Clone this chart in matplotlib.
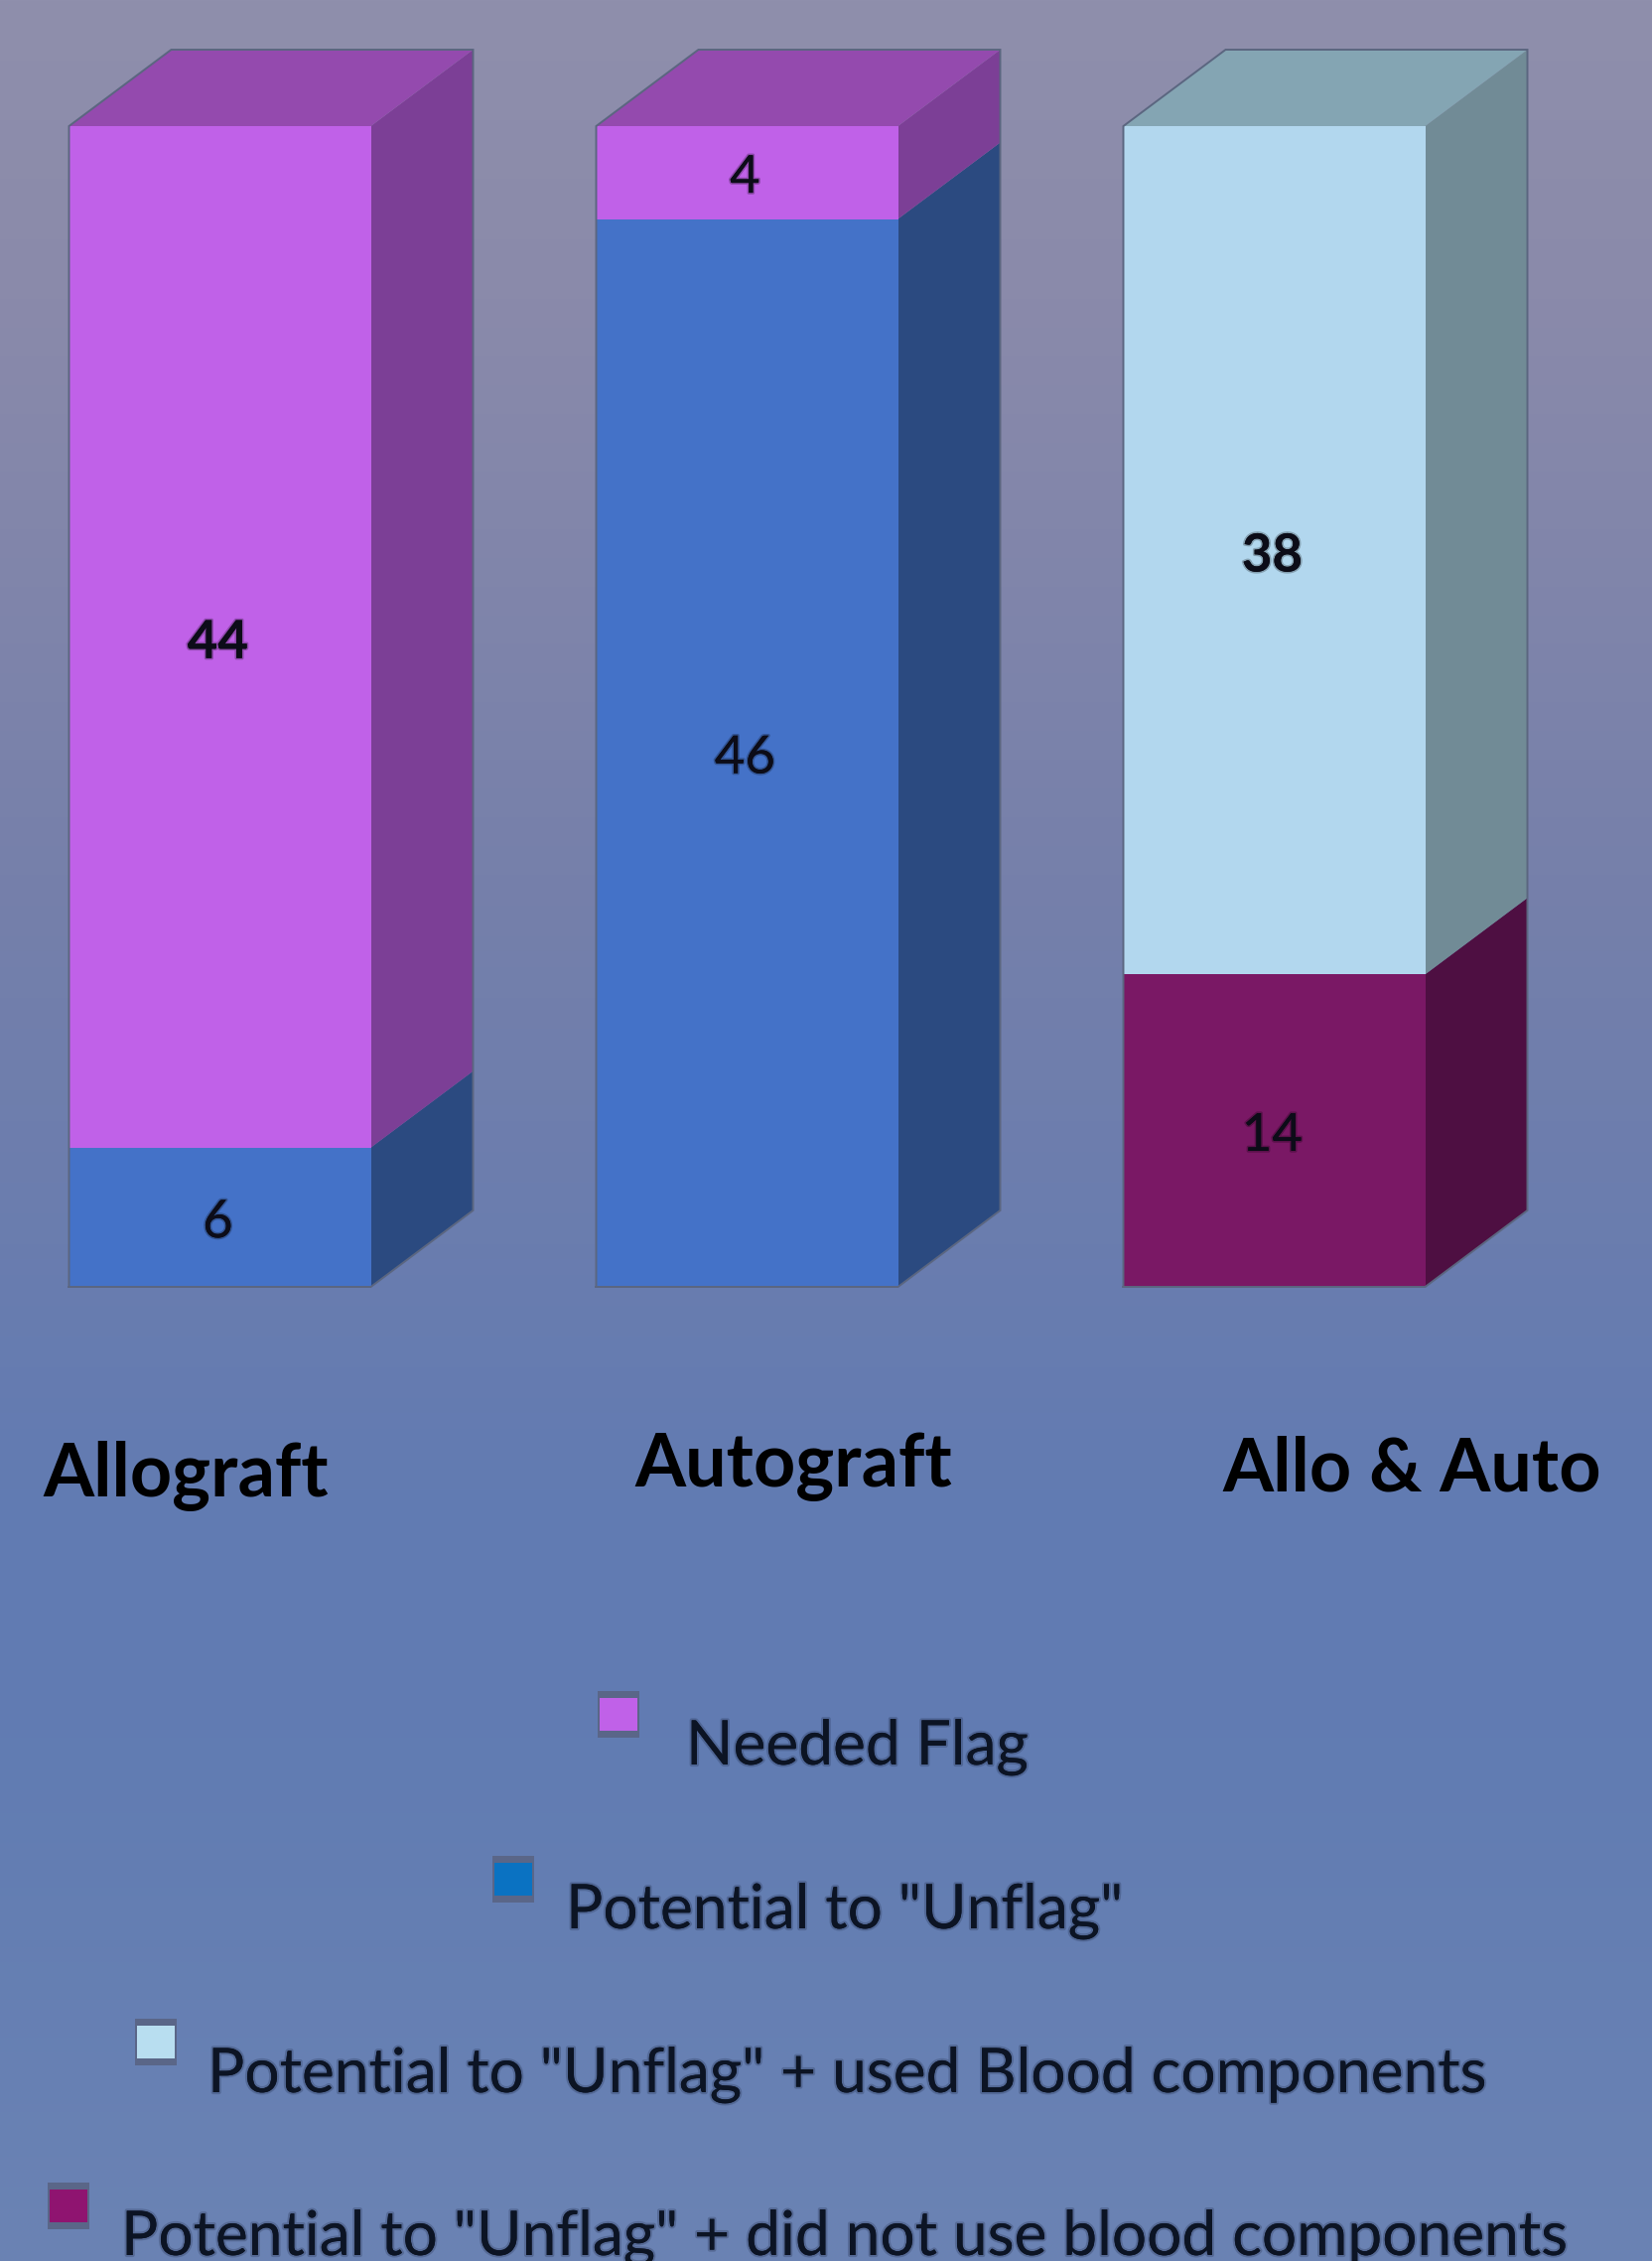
import numpy as np
import matplotlib
matplotlib.use('Agg')
import matplotlib.pyplot as plt
import matplotlib.patheffects as pe
from matplotlib.patches import Rectangle

categories = ['Allograft', 'Autograft', 'Allo & Auto']
# stacked bottom to top, each bar is drawn as share of its own total
unflag = [6, 46, 0]
no_blood = [0, 0, 14]
used_blood = [0, 0, 38]
needed_flag = [44, 4, 0]

series_names = ['Needed Flag', 'Potential to "Unflag"',
                'Potential to "Unflag" + used Blood components',
                'Potential to "Unflag" + did not use blood components']

W, H = 1664, 2277
plt.rcParams['font.family'] = ['Lato', 'DejaVu Sans']

fig = plt.figure(figsize=(W / 100, H / 100), dpi=100)
ax = fig.add_axes([0, 0, 1, 1])

# x=0 is the middle of the first bar, y is percent of bar height
x_unit = 531.0
y_unit = 11.69
xlim = (-221.5 / x_unit, (W - 221.5) / x_unit)
ylim = (-(H - 1296) / y_unit, 100 + 127 / y_unit)
ax.axis('off')

# background gradient
stops_y = [0, 300, 880, 1500, 1750, 2277]
stops_c = np.array([[143, 143, 172], [138, 138, 170], [118, 128, 170],
                    [98, 123, 178], [97, 124, 178], [107, 131, 180]]) / 255
rows = np.arange(H)
grad = np.stack([np.interp(rows, stops_y, stops_c[:, i]) for i in range(3)], axis=1)
ax.imshow(grad[:, None, :], extent=[*xlim, *ylim], aspect='auto',
          origin='upper', zorder=0)
ax.set_xlim(*xlim)
ax.set_ylim(*ylim)

bar_w = 304 / x_unit
dx = 103 / x_unit
dy = 77 / y_unit
edge = '#5b6680'

# front, side, top colours
styles = {
    'unflag': ('#4472c8', '#2b4a80', '#35599c'),
    'no_blood': ('#7a1865', '#4e0f42', '#5f1350'),
    'used_blood': ('#b2d7ee', '#718b96', '#84a5b3'),
    'needed_flag': ('#c061e8', '#7c3f96', '#944aae'),
}
stack = [('unflag', unflag), ('no_blood', no_blood),
         ('used_blood', used_blood), ('needed_flag', needed_flag)]
bold_labels = {44, 38}

totals = np.sum([vals for _, vals in stack], axis=0)
x = np.arange(len(categories))

for i in x:
    bottom = 0.0
    x0, x1 = i - bar_w / 2, i + bar_w / 2
    top_name = None
    for name, vals in stack:
        if vals[i] == 0:
            continue
        h = vals[i] / totals[i] * 100
        front, side, top = styles[name]
        ax.bar(i, h, bar_w, bottom=bottom, color=front, edgecolor='none', zorder=3)
        ax.fill([x1, x1 + dx, x1 + dx, x1],
                [bottom, bottom + dy, bottom + h + dy, bottom + h],
                color=side, lw=0, zorder=2)
        weight = 'bold' if vals[i] in bold_labels else 'normal'
        # labels sit a little under the segment middle
        ax.text(i - 0.004, bottom + h / 2 - 0.5, str(vals[i]), ha='center', va='center',
                fontsize=38, fontweight=weight, color='#0c0c18', zorder=5,
                path_effects=[pe.withStroke(linewidth=2.5, foreground='#00000040')])
        bottom += h
        top_name = name
    # top face of the box and thin outline
    ax.fill([x0, x0 + dx, x1 + dx, x1], [100, 100 + dy, 100 + dy, 100],
            color=styles[top_name][2], lw=0, zorder=2)
    ax.plot([x0, x0, x0 + dx, x1 + dx, x1 + dx, x1, x0],
            [0, 100, 100 + dy, 100 + dy, dy, 0, 0],
            color=edge, lw=1.4, zorder=4, solid_joinstyle='miter')


def fx(px):
    return px / W


def fy(py):
    return 1 - py / H


# category labels sit a bit unevenly in the original
label_pos = [(43, 1507), (639, 1497), (1231, 1502)]
for name, (px, py) in zip(categories, label_pos):
    fig.text(fx(px), fy(py), name, fontsize=53, fontweight='bold', color='black',
             ha='left', va='baseline')

# hand placed legend
swatches = [(602, 1703), (496, 1869), (136, 2033), (48, 2198)]
text_pos = [(691, 1777), (570, 1942), (209, 2107), (122, 2271)]
legend_cols = ['#c061e8', '#0a72c2', '#b8def0', '#8f1470']
for name, col, (sx, sy), (tx, ty) in zip(series_names, legend_cols, swatches, text_pos):
    fig.add_artist(Rectangle((fx(sx), fy(sy + 47)), 42 / W, 47 / H, transform=fig.transFigure,
                             facecolor='#5a6688', edgecolor='none', zorder=3))
    fig.add_artist(Rectangle((fx(sx + 2), fy(sy + 40)), 38 / W, 33 / H, transform=fig.transFigure,
                             facecolor=col, edgecolor='none', zorder=4))
    fig.text(fx(tx), fy(ty), name, fontsize=44.8, color='#0c1424', ha='left', va='baseline',
             path_effects=[pe.withStroke(linewidth=3, foreground='#10183038')])

fig.savefig('out.png', dpi=100)
